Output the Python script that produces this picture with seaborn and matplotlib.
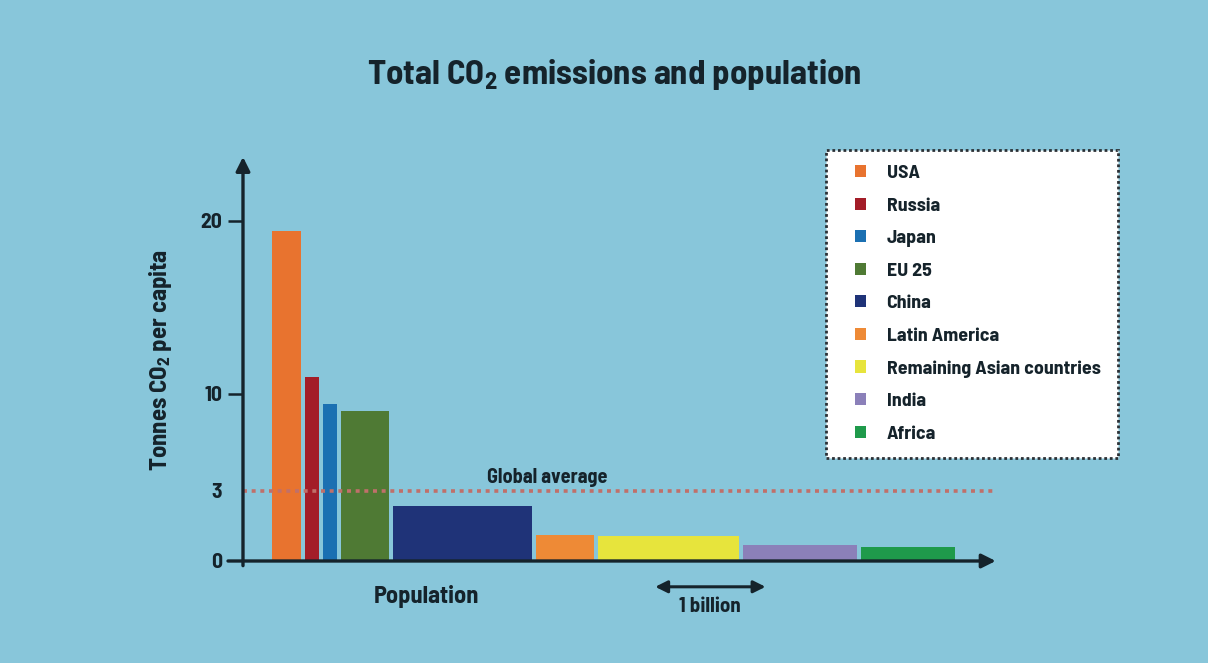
import numpy as np
import matplotlib
matplotlib.use("Agg")
import matplotlib.pyplot as plt
from matplotlib import font_manager as fm
from matplotlib.patches import Patch, Rectangle
import seaborn as sns

# Regions, population (billions) and CO2 emissions per capita (tonnes)
regions = ["USA", "Russia", "Japan", "EU 25", "China", "Latin America",
           "Remaining Asian countries", "India", "Africa"]
population = [0.27, 0.13, 0.13, 0.45, 1.30, 0.54, 1.32, 1.07, 0.87]
co2_per_capita = [19.4, 11.0, 9.3, 8.8, 2.35, 1.1, 1.05, 0.7, 0.58]
colors = ["#e8732f", "#a31d28", "#1b70b2", "#4f7a34", "#1f3378",
          "#ee8a36", "#e7e43c", "#8b80b9", "#1f9a4b"]
global_average = 3
y_ticks = [0, 3, 10, 20]

BG = "#88c6da"
INK = "#15232b"

# Pick a condensed bold sans that is installed
installed = {f.name for f in fm.fontManager.ttflist}
FONT = next((f for f in ["Barlow Semi Condensed", "Roboto Condensed",
                         "IBM Plex Sans Condensed", "Open Sans Condensed"]
             if f in installed), "DejaVu Sans")

sns.set_theme(style="white")
plt.rcParams["font.family"] = [FONT, "DejaVu Sans"]
plt.rcParams["font.weight"] = "bold"
plt.rcParams["mathtext.fontset"] = "custom"
plt.rcParams["mathtext.rm"] = f"{FONT}:bold"
plt.rcParams["mathtext.it"] = f"{FONT}:bold"
plt.rcParams["mathtext.bf"] = f"{FONT}:bold"

fig = plt.figure(figsize=(12.08, 6.63), dpi=100, facecolor=BG)
W, H = 1208, 663
ax = fig.add_axes([228 / W, 1 - 570 / H, 772 / W, 420 / H])
ax.set_facecolor(BG)

# Stretched value axis: equal visual steps between the labelled ticks
knots_v = np.array([-10, 0, 3, 10, 20, 40], dtype=float)
knots_p = np.array([-233.3, 0, 70, 167, 340, 686], dtype=float)


def fwd(v):
    return np.interp(v, knots_v, knots_p)


def inv(p):
    return np.interp(p, knots_p, knots_v)


ax.set_yscale("function", functions=(fwd, inv))

# Variable-width bars: width = population, height = emissions per capita
gap = 0.037
start = 0.27
lefts = []
pos = start
for w in population:
    lefts.append(pos)
    pos += w + gap
ax.bar(lefts, co2_per_capita, width=population, align="edge",
       color=colors, linewidth=0, zorder=2)

ax.set_xlim(-0.14, 7.07)
ax.set_ylim(-0.386, 24.1)

for s in ax.spines.values():
    s.set_visible(False)
ax.spines["left"].set_position(("data", 0))

ax.set_xticks([])
ax.set_yticks(y_ticks)
ax.set_yticklabels([str(t) for t in y_ticks])
ax.tick_params(axis="y", length=11, width=1.8, color=INK, pad=4,
               labelsize=15.5, labelcolor=INK, left=True)
for lbl in ax.get_yticklabels():
    lbl.set_fontweight("bold")
ax.yaxis.get_major_ticks()[1].tick1line.set_visible(False)
ax.yaxis.get_major_ticks()[0].tick1line.set_visible(False)

# Axis arrows
arrow = dict(arrowstyle="-|>,head_length=0.7,head_width=0.35", color=INK,
             lw=2.4, shrinkA=0, shrinkB=0)
ax.annotate("", xy=(7.03, 0), xytext=(-0.14, 0), arrowprops=arrow,
            annotation_clip=False, zorder=4)
ax.annotate("", xy=(0, 23.7), xytext=(0, -0.2), arrowprops=arrow,
            annotation_clip=False, zorder=4)

# Global average line
ax.plot([0, 7.0], [global_average, global_average], color="#c0706a",
        lw=2.6, linestyle=(0, (1.1, 1.3)), zorder=3)
ax.text(2.28, 4.0, "Global average", fontsize=14.5, fontweight="bold",
        color=INK, ha="left", va="center")

# Scale bar for population
xt = ax.get_xaxis_transform()
ax.annotate("", xy=(3.85, -0.040), xytext=(4.88, -0.040), xycoords=xt,
            textcoords=xt,
            arrowprops=dict(arrowstyle="<|-|>,head_length=0.6,head_width=0.3",
                            color=INK, lw=2.2, shrinkA=0, shrinkB=0),
            annotation_clip=False)
ax.text(4.36, -0.088, "1 billion", transform=xt, fontsize=15,
        fontweight="bold", color=INK, ha="center", va="center")
ax.text(1.71, -0.062, "Population", transform=xt, fontsize=17.5,
        fontweight="bold", color=INK, ha="center", va="center")

fig.text(160 / W, 1 - 360 / H, "Tonnes CO$_2$ per capita", rotation=90,
         fontsize=17.8, fontweight="bold", color=INK, ha="center", va="center")

fig.text(614 / W, 1 - 75 / H, "Total CO$_2$ emissions and population",
         fontsize=25, fontweight="bold", color=INK, ha="center", va="center")

# Legend box and entries
fig.patches.append(Rectangle((826 / W, 1 - 458 / H), 292 / W, 308 / H,
                             transform=fig.transFigure, facecolor="white",
                             edgecolor="#2a3035", linewidth=2,
                             linestyle=(0, (1, 1)), zorder=1))
handles = [Patch(facecolor=c, edgecolor="none") for c in colors]
leg = fig.legend(handles, regions, loc="upper left",
                 bbox_to_anchor=(855 / W, 1 - 165 / H),
                 borderaxespad=0, frameon=False, borderpad=0,
                 prop={"family": [FONT, "DejaVu Sans"],
                       "weight": "bold", "size": 14.3},
                 handlelength=0.57, handleheight=0.57, handletextpad=1.02,
                 labelspacing=0.775)
leg.set_zorder(2)
for t in leg.get_texts():
    t.set_color(INK)

fig.savefig("out.png", dpi=100, facecolor=BG)
